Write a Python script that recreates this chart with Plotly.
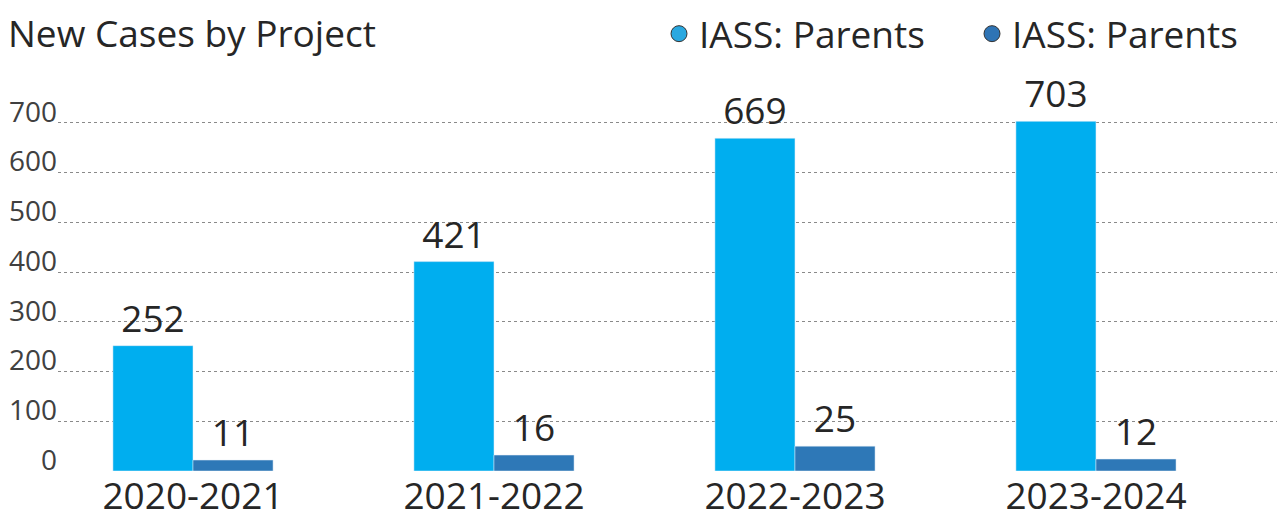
import plotly.graph_objects as go

categories = ["2020-2021", "2021-2022", "2022-2023", "2023-2024"]
series_a_name = "IASS: Parents"
series_a = [252, 421, 669, 703]
series_b_name = "IASS: Parents"
series_b = [11, 16, 25, 12]
y_ticks = [0, 100, 200, 300, 400, 500, 600, 700]

FONT = "Open Sans"
LIGHT = "#00AEEF"
DARK = "#2E78B7"
TXT = "#262626"
BW = 0.266

fig = go.Figure()
fig.add_trace(go.Bar(
    x=categories, y=series_a, name=series_a_name, marker_color=LIGHT,
    width=BW, offset=-BW, texttemplate="%{y}", textposition="outside",
    textfont=dict(size=37, color=TXT, family=FONT), cliponaxis=False,
    constraintext="none", showlegend=False, yaxis="y"))
fig.add_trace(go.Bar(
    x=categories, y=series_b, name=series_b_name, marker_color=DARK,
    width=BW, offset=0, texttemplate="%{y}", textposition="outside",
    textfont=dict(size=37, color=TXT, family=FONT), cliponaxis=False,
    constraintext="none", showlegend=False, yaxis="y2"))
# legend entries
fig.add_trace(go.Scatter(x=[None], y=[None], mode="markers", name=series_a_name,
    marker=dict(symbol="circle", size=24, color="#29A8E0", line=dict(color="#333333", width=1))))
fig.add_trace(go.Scatter(x=[None], y=[None], mode="markers", name=series_b_name,
    marker=dict(symbol="circle", size=24, color="#2E74B5", line=dict(color="#333333", width=1))))

fig.update_layout(
    width=1277, height=512,
    margin=dict(l=50, r=0, t=82, b=49),
    paper_bgcolor="white", plot_bgcolor="white",
    font=dict(family=FONT, color=TXT),
    title=dict(text="New Cases by Project", x=0, xanchor="left", y=0.949, yanchor="middle",
               font=dict(size=37, color=TXT, family=FONT)),
    barmode="overlay",
    showlegend=True,
    legend=dict(orientation="h", x=0.5215, xanchor="left", y=0.949, yref="container", yanchor="middle",
                font=dict(size=37, color=TXT, family=FONT), entrywidth=268, entrywidthmode="pixels",
                bgcolor="rgba(0,0,0,0)"),
    xaxis=dict(range=[-0.4485, 3.628], showgrid=False, showline=False, ticks="", automargin=False,
               tickfont=dict(size=37, color=TXT, family=FONT), ticklabelstandoff=0),
    yaxis=dict(range=[0, 766], tickvals=y_ticks, showgrid=True, gridcolor="#8A8A8A", griddash="dot",
               gridwidth=1, zeroline=False, showline=False, ticks="", automargin=False,
               tickfont=dict(size=28, color="#404040", family=FONT), ticklabelstandoff=0,
               ticklabelshift=-11),
    yaxis2=dict(range=[0, 383], overlaying="y", visible=False),
)

fig.write_html("out.html")
